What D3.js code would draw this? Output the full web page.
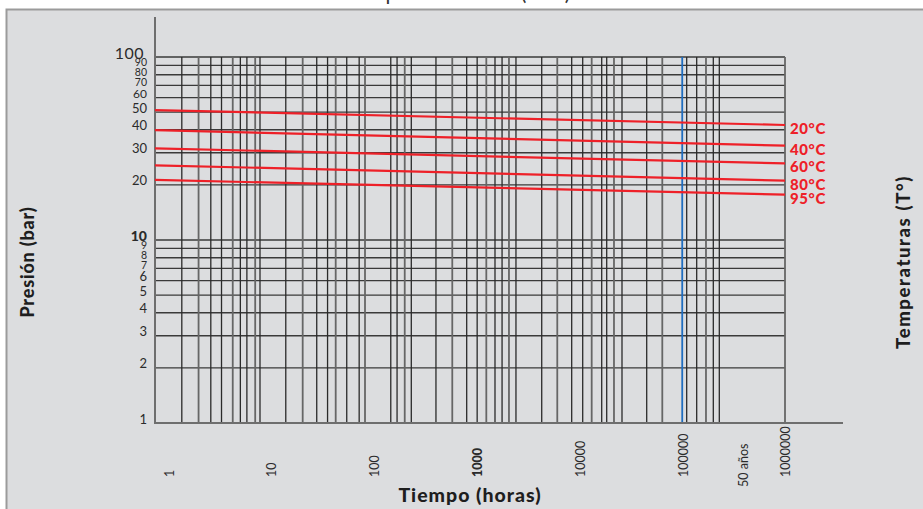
<!DOCTYPE html>
<html><head><meta charset="utf-8">
<script src="https://cdn.jsdelivr.net/npm/d3@7"></script>
<style>body{margin:0;background:#fff}svg{display:block}</style>
</head><body><svg id="c" width="923" height="509"></svg>
<script>
// ---- data ----
const hourTicks = [1, 10, 100, 1000, 10000, 100000, 1000000];
const hourTickLabels = ["1", "10", "100", "1000", "10000", "100000", "1000000"];
const boldHourTick = "1000";
const fiftyYearsHours = 438000;
const fiftyYearsLabel = "50 años";
const pressureTicks = [1, 2, 3, 4, 5, 6, 7, 8, 9, 10, 20, 30, 40, 50, 60, 70, 80, 90, 100];
const pressureTickLabels = ["1","2","3","4","5","6","7","8","9","10","20","30","40","50","60","70","80","90","100"];
const pressureGrid = [2, 3, 4, 5, 6, 7, 8, 9, 10, 20, 30, 40, 50, 60, 70, 80, 90, 100];
const timeGrid = [1.8, 2.6, 3.4, 4.3, 5.5, 6.5, 7.5, 9, 10, 17.6, 25.5, 34.7, 44, 52.6, 67, 88, 100,
  176, 202, 239, 276, 474, 678, 930, 1170, 1430, 1730, 2020, 2350, 2740, 4820, 6780, 9300,
  11840, 14420, 17960, 20040, 23510, 28030, 48180, 67820, 115800, 144200, 176800, 207600, 236800, 1000000];
const blueLineHours = 105000;
const temperatures = ["20°C", "40°C", "60°C", "80°C", "95°C"];
const seriesHours = [1, 1000000];
const pressure20 = [51.3, 42.5];
const pressure40 = [39.8, 32.8];
const pressure60 = [31.7, 26.2];
const pressure80 = [25.6, 21.1];
const pressure95 = [21.3, 17.7];
const titleText = "Tiempo de vida útil (PPR)";
const xTitle = "Tiempo (horas)";
const yTitle = "Presión (bar)";
const y2Title = "Temperaturas (T°)";

// ---- drawing ----
const svg = d3.select("#c");
const font = "Lato, 'Noto Sans', sans-serif";
const x = d3.scaleLog().domain([1, 1000000]).range([155, 785]);
const y = d3.scaleLog().domain([1, 100]).range([423, 57]);

svg.append("text").attr("x", 455).attr("y", 0).attr("text-anchor", "middle")
  .attr("font-family", font).attr("font-size", 21).attr("fill", "#333").text(titleText);

svg.append("rect").attr("x", 6).attr("y", 9).attr("width", 917).attr("height", 500).attr("fill", "#dcdddf");
svg.append("path").attr("d", "M6.5,509V9.5H923").attr("fill", "none").attr("stroke", "#9b9b9b").attr("stroke-width", 2);

const g = svg.append("g");
// horizontal grid
g.selectAll("line.h").data(pressureGrid).join("line")
  .attr("x1", x(1)).attr("x2", x(1000000)).attr("y1", d => y(d)).attr("y2", d => y(d))
  .attr("stroke", "#3a3a3a").attr("stroke-width", 1.4);
// vertical grid
g.selectAll("line.v").data(timeGrid).join("line")
  .attr("x1", d => x(d)).attr("x2", d => x(d)).attr("y1", y(100)).attr("y2", y(1))
  .attr("stroke", (d, i) => i % 3 === 1 ? "#666" : "#2a2a2a").attr("stroke-width", (d, i) => i % 3 === 1 ? 1.8 : 1.3);
// blue line
g.append("line").attr("x1", x(blueLineHours)).attr("x2", x(blueLineHours)).attr("y1", y(100)).attr("y2", y(1))
  .attr("stroke", "#1f6dc0").attr("stroke-width", 1.8);
// axes lines
g.append("line").attr("x1", x(1)).attr("x2", x(1)).attr("y1", 17).attr("y2", y(1) + 1)
  .attr("stroke", "#6e6e6e").attr("stroke-width", 2);
g.append("line").attr("x1", x(1)).attr("x2", 843).attr("y1", y(1)).attr("y2", y(1))
  .attr("stroke", "#6e6e6e").attr("stroke-width", 2);

// red series
const series = [pressure20, pressure40, pressure60, pressure80, pressure95];
const line = d3.line().x(d => x(d[0])).y(d => y(d[1]));
series.forEach((vals, i) => {
  const pts = seriesHours.map((h, j) => [h, vals[j]]);
  g.append("path").attr("d", line(pts)).attr("fill", "none").attr("stroke", "#ee2028").attr("stroke-width", 2.2);
  g.append("text").attr("x", x(1000000) + 5).attr("y", y(vals[vals.length - 1]) + 3)
    .attr("dominant-baseline", "central").attr("font-family", font).attr("font-weight", 900)
    .attr("font-size", 15).attr("letter-spacing", 0.6).attr("fill", "#ee2028").text(temperatures[i]);
});

// y tick labels
pressureTicks.forEach((v, i) => {
  const lab = pressureTickLabels[i];
  let size = 13, weight = 400, dy = -4.5;
  if (v === 100) { size = 16; dy = -5; }
  else if (v === 10) { weight = 900; size = 14; }
  else if ((v >= 7 && v <= 9) || (v >= 70 && v <= 90)) { size = 10.5; dy = -3; }
  else if (v === 60) { size = 12; dy = -4; }
  svg.append("text").attr("x", v === 100 ? 144 : 147).attr("y", y(v) + dy)
    .attr("text-anchor", "end").attr("dominant-baseline", "central")
    .attr("font-family", font).attr("font-size", size).attr("font-weight", weight)
    .attr("letter-spacing", v === 100 ? 0.5 : 0)
    .attr("fill", "#2b2b2b").text(lab);
});

// x tick labels (rotated)
hourTicks.forEach((v, i) => {
  const lab = hourTickLabels[i];
  const cx = x(v) + 14 - 2.2 * i;
  svg.append("text").attr("transform", `translate(${cx},477) rotate(-90)`)
    .attr("dominant-baseline", "central").attr("font-family", font)
    .attr("font-size", 12.5).attr("font-weight", lab === boldHourTick ? 900 : 400)
    .attr("fill", "#2b2b2b").text(lab);
});
svg.append("text").attr("transform", `translate(${x(fiftyYearsHours) - 4},487) rotate(-90)`)
  .attr("dominant-baseline", "central").attr("font-family", font)
  .attr("font-size", 12.5).attr("fill", "#2b2b2b").text(fiftyYearsLabel);

// axis titles
svg.append("text").attr("x", 470).attr("y", 502).attr("text-anchor", "middle")
  .attr("font-family", font).attr("font-weight", 900).attr("font-size", 19.5).attr("letter-spacing", 1)
  .attr("fill", "#1e1e1e").text(xTitle);
svg.append("text").attr("transform", "translate(27,262) rotate(-90)").attr("text-anchor", "middle")
  .attr("dominant-baseline", "central").attr("font-family", font).attr("font-weight", 900)
  .attr("font-size", 18).attr("letter-spacing", 0.8).attr("fill", "#1e1e1e").text(yTitle);
svg.append("text").attr("transform", "translate(903,262) rotate(-90)").attr("text-anchor", "middle")
  .attr("dominant-baseline", "central").attr("font-family", font).attr("font-weight", 900)
  .attr("font-size", 18.5).attr("letter-spacing", 1.6).attr("fill", "#1e1e1e").text(y2Title);
</script></body></html>
